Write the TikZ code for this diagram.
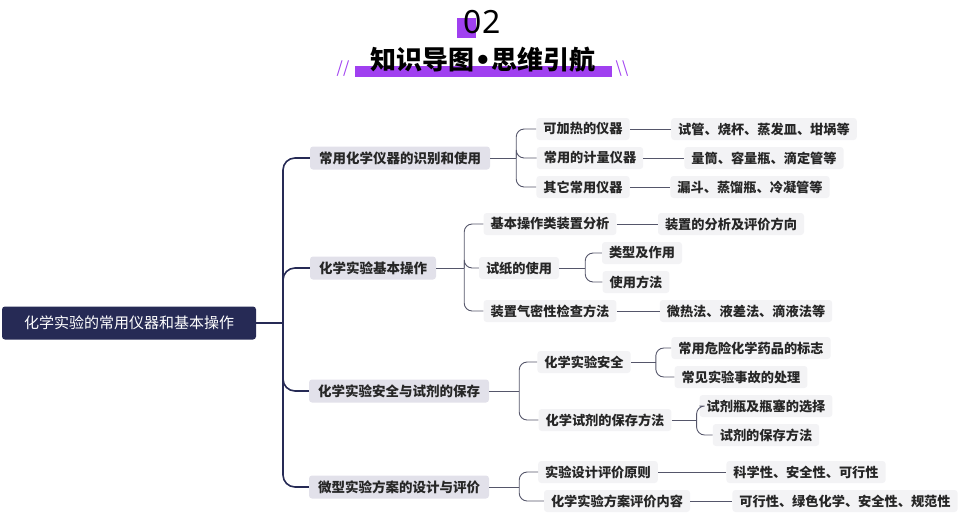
\documentclass[tikz,border=0pt]{standalone}
\usepackage{fontspec}
\setmainfont{Noto Sans CJK SC}
\usetikzlibrary{calc}
\definecolor{navy}{HTML}{262A55}
\definecolor{lone}{HTML}{E2E1EA}
\definecolor{ltwo}{HTML}{F3F3F5}
\definecolor{purp}{HTML}{A040F0}
\definecolor{lin}{HTML}{55566A}
\tikzset{
 root/.style={fill=navy,text=white,rounded corners=3pt,minimum height=33pt,minimum width=254pt,font=\fontsize{15}{17}\selectfont},
 lone/.style={fill=lone,text=black!85,rounded corners=3pt,minimum height=23pt,inner xsep=9pt,font=\bfseries\fontsize{13.5}{15}\selectfont},
 ltwo/.style={fill=ltwo,text=black!85,rounded corners=3pt,minimum height=22pt,inner xsep=7pt,font=\bfseries\fontsize{13.2}{15}\selectfont},
 trunk/.style={draw=navy,line width=1.6pt,rounded corners=12pt},
 conn/.style={draw=lin,line width=0.9pt,rounded corners=8pt},
}
\begin{document}
\begin{tikzpicture}[x=1pt,y=-1pt]
\useasboundingbox (0,0) rectangle (970,522);
% header
\fill[purp] (457,18) rectangle (476,38);
\node (num) at (482,22) {\fontspec{Noto Sans}\fontsize{32}{34}\selectfont 02};
\fill[purp] (355,66) rectangle (612,77);
\node (ttl) at (483,60) {\bfseries\fontsize{26}{28}\selectfont 知识导图\fontspec{DejaVu Sans}\textbf{•}\fontspec{Noto Sans CJK SC}\bfseries 思维引航};
\node[text=purp] (sl1) at (343,69) {\fontsize{16}{16}\selectfont\itshape //};
\node[text=purp] (sl2) at (622,69) {\fontsize{16}{16}\selectfont\itshape \textbackslash\textbackslash};
% nodes
\node[root] (r) at (129,323) {化学实验的常用仪器和基本操作};
\node[lone] (a) at (400,158) {常用化学仪器的识别和使用};
\node[lone] (b) at (373,268) {化学实验基本操作};
\node[lone] (c) at (399,391) {化学实验安全与试剂的保存};
\node[lone] (d) at (399,487) {微型实验方案的设计与评价};

\node[ltwo] (a1) at (583,129) {可加热的仪器};
\node[ltwo] (a2) at (590,158) {常用的计量仪器};
\node[ltwo] (a3) at (583,187) {其它常用仪器};
\node[ltwo] (a1x) at (764,129) {试管、烧杯、蒸发皿、坩埚等};
\node[ltwo] (a2x) at (764,158) {量筒、容量瓶、滴定管等};
\node[ltwo] (a3x) at (750,187) {漏斗、蒸馏瓶、冷凝管等};

\node[ltwo] (b1) at (550,224) {基本操作类装置分析};
\node[ltwo] (b2) at (519,268) {试纸的使用};
\node[ltwo] (b3) at (550,311) {装置气密性检查方法};
\node[ltwo] (b1x) at (731,224) {装置的分析及评价方向};
\node[ltwo] (b2a) at (642,253) {类型及作用};
\node[ltwo] (b2b) at (636,282) {使用方法};
\node[ltwo] (b3x) at (746,311) {微热法、液差法、滴液法等};

\node[ltwo] (c1) at (584,362) {化学实验安全};
\node[ltwo] (c2) at (605,420) {化学试剂的保存方法};
\node[ltwo] (c1a) at (751,348) {常用危险化学药品的标志};
\node[ltwo] (c1b) at (741,377) {常见实验事故的处理};
\node[ltwo] (c2a) at (766,406) {试剂瓶及瓶塞的选择};
\node[ltwo] (c2b) at (766,435) {试剂的保存方法};

\node[ltwo] (d1) at (598,472) {实验设计评价原则};
\node[ltwo] (d2) at (617,501) {化学实验方案评价内容};
\node[ltwo] (d1x) at (806,472) {科学性、安全性、可行性};
\node[ltwo] (d2x) at (845,501) {可行性、绿色化学、安全性、规范性};

% trunk
\coordinate (t) at (283,323);
\draw[trunk] (r.east) -- (t);
\foreach \n in {a,b,c,d} \draw[trunk] (t) |- (\n.west);

% bracket connectors
\newcommand{\brk}[3]{%
 \coordinate (j) at ($(#1.east)+(#2,0)$);
 \draw[conn] (#1.east) -- (j);
 \foreach \k in {#3} \draw[conn] (j) |- (\k.west);}
\brk{a}{26}{a1,a2,a3}
\brk{b}{28}{b1,b2,b3}
\brk{c}{30}{c1,c2}
\brk{d}{30}{d1,d2}
\brk{b2}{26}{b2a,b2b}
\brk{c1}{25}{c1a,c1b}
\brk{c2}{25}{c2a,c2b}
\foreach \p/\q in {a1/a1x,a2/a2x,a3/a3x,b1/b1x,b3/b3x,d1/d1x,d2/d2x}
 \draw[conn] (\p.east) -- (\q.west);
\end{tikzpicture}
\end{document}
